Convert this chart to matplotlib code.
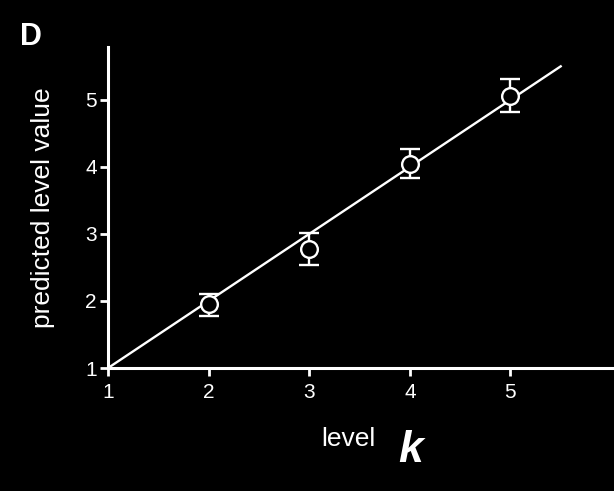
import matplotlib
matplotlib.use("Agg")
import matplotlib.pyplot as plt

# data
levels = [2, 3, 4, 5]
predicted = [1.96, 2.78, 4.05, 5.06]
err_low = [0.18, 0.24, 0.21, 0.24]
err_high = [0.15, 0.23, 0.22, 0.25]
fit_x = [1, 5.5]
fit_y = [1, 5.5]
xticks = [1, 2, 3, 4, 5]
yticks = [1, 2, 3, 4, 5]

plt.rcParams["font.family"] = ["Liberation Sans", "DejaVu Sans"]

fig = plt.figure(figsize=(6.14, 4.91), dpi=100, facecolor="black")
ax = fig.add_axes([0.176, 0.2505, 0.824, 0.654])
ax.set_facecolor("black")

ax.plot(fit_x, fit_y, color="white", lw=1.7, zorder=2)
ax.errorbar(levels, predicted, yerr=[err_low, err_high], fmt="o", color="white",
            mfc="black", mec="white", ms=12, mew=1.7, elinewidth=1.7,
            capsize=7, capthick=1.9, zorder=3)

ax.set_xlim(1, 6.03)
ax.set_ylim(1, 5.79)
ax.set_xticks(xticks)
ax.set_yticks(yticks)

for side in ["top", "right"]:
    ax.spines[side].set_visible(False)
for side in ["left", "bottom"]:
    ax.spines[side].set_color("white")
    ax.spines[side].set_linewidth(2.2)

ax.tick_params(colors="white", labelsize=15, length=6, width=2)
ax.tick_params(axis="x", pad=5)
ax.tick_params(axis="y", pad=2)
ax.set_ylabel("predicted level value", color="white", fontsize=19, labelpad=22)

fig.text(0.567, 0.106, "level", color="white", fontsize=19, ha="center", va="center")
fig.text(0.668, 0.083, "k", color="white", fontsize=32, fontweight="bold",
         style="italic", ha="center", va="center")
fig.text(0.05, 0.925, "D", color="white", fontsize=22, fontweight="bold",
         ha="center", va="center")

fig.savefig("out.png", dpi=100, facecolor="black")
